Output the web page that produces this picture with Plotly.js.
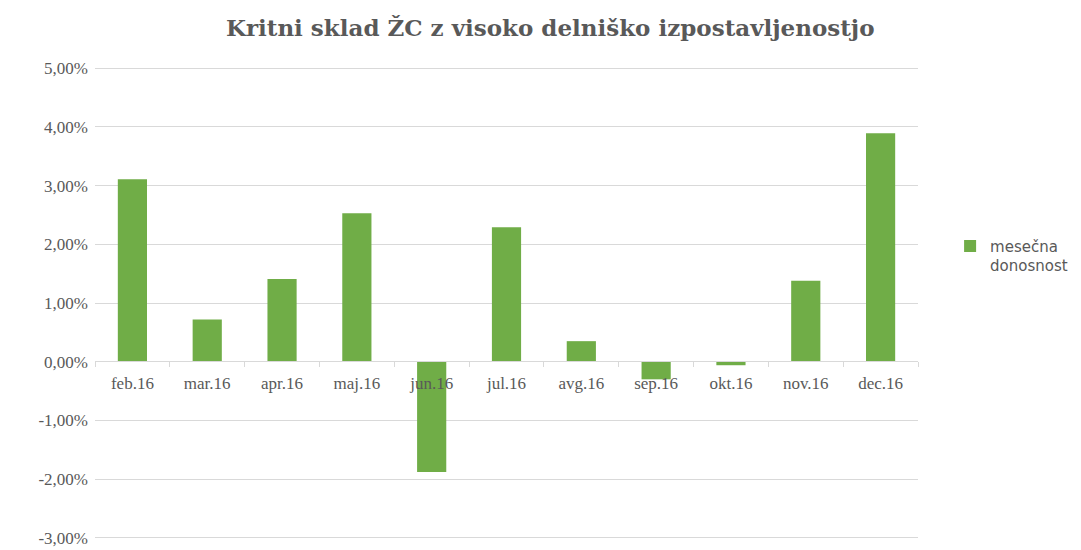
<!DOCTYPE html>
<html>
<head>
<meta charset="utf-8">
<script src="https://cdn.plot.ly/plotly-3.0.1.min.js"></script>
<style>html,body{margin:0;padding:0;background:#fff;}#chart{width:1081px;height:550px;}</style>
</head>
<body>
<div id="chart"></div>
<script>
const categories = ["feb.16","mar.16","apr.16","maj.16","jun.16","jul.16","avg.16","sep.16","okt.16","nov.16","dec.16"];
const monthlyReturn = [3.11, 0.72, 1.41, 2.53, -1.88, 2.29, 0.35, -0.30, -0.06, 1.38, 3.89];
const seriesName = "mesečna<br>donosnost";
const yTickVals = [-3,-2,-1,0,1,2,3,4,5];
const yTickText = ["-3,00%","-2,00%","-1,00%","0,00%","1,00%","2,00%","3,00%","4,00%","5,00%"];
const titleText = "Kritni sklad ŽC z visoko delniško izpostavljenostjo";

const serif = "Liberation Serif, DejaVu Serif, serif";
const grey = "#595959";
const gridC = "#d9d9d9";

Plotly.newPlot("chart", [{
  type: "bar",
  x: categories,
  y: monthlyReturn,
  name: seriesName,
  marker: {color: "#70ad47"},
  hoverinfo: "x+y"
}], {
  width: 1081, height: 550,
  margin: {l: 95, r: 163, t: 67, b: 11, autoexpand: false},
  paper_bgcolor: "#fff", plot_bgcolor: "#fff",
  bargap: 0.61,
  title: {text: "<b>" + titleText + "</b>", x: 0.509, xanchor: "center", y: 0.95, yanchor: "middle",
          font: {family: "DejaVu Serif, serif", size: 23, color: grey}},
  xaxis: {
    type: "category",
    anchor: "free", position: 0.3765,
    showline: true, linecolor: gridC, linewidth: 1,
    ticks: "outside", tickson: "boundaries", ticklen: 5, tickcolor: gridC,
    showgrid: false, zeroline: false,
    ticklabelstandoff: 6,
    tickfont: {family: serif, size: 17, color: grey}
  },
  yaxis: {
    range: [-3.02, 5.02],
    tickvals: yTickVals, ticktext: yTickText,
    showgrid: true, gridcolor: gridC, gridwidth: 1,
    zeroline: false, showline: false, ticks: "",
    ticklabelstandoff: 6,
    ticklabeloverflow: "allow",
    tickfont: {family: serif, size: 17, color: grey}
  },
  showlegend: true,
  legend: {x: 1.039, xanchor: "left", y: 0.655, yanchor: "top", valign: "top",
           font: {family: "DejaVu Sans, sans-serif", size: 15, color: grey},
           itemwidth: 30, bgcolor: "rgba(0,0,0,0)"}
}, {displayModeBar: false});
</script>
</body>
</html>
